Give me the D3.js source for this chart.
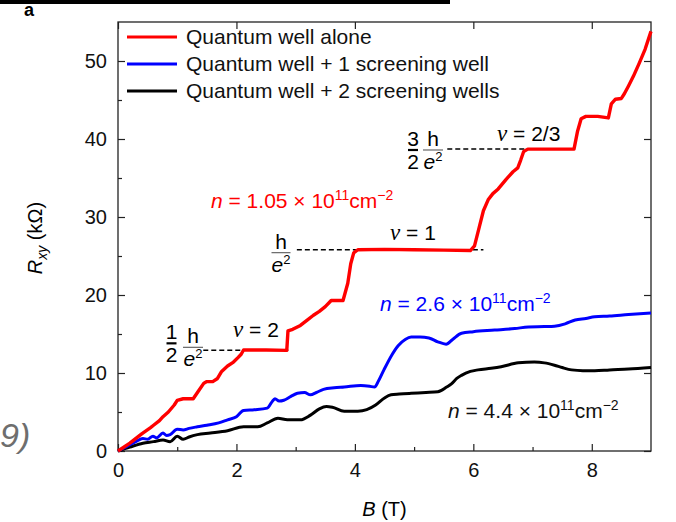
<!DOCTYPE html>
<html>
<head>
<meta charset="utf-8">
<script src="https://cdn.jsdelivr.net/npm/d3@7"></script>
<style>
  html, body { margin: 0; padding: 0; background: #fff; }
  svg { display: block; font-family: "Liberation Sans", Arial, sans-serif; }
</style>
</head>
<body>
<svg id="chart" width="676" height="522"></svg>
<script>
// Hall resistance R_xy (kΩ) versus magnetic field B (T)
const seriesNames = [
  "Quantum well alone",
  "Quantum well + 1 screening well",
  "Quantum well + 2 screening wells"
];
const seriesColors = ["#ff0000", "#0000ff", "#000000"];

// [B (T), Rxy (kΩ)]
const wellAlone = [
  [0,0],[0.2,1.0],[0.4,2.2],[0.55,3.0],[0.6,3.3],[0.7,3.9],[0.76,4.4],[0.85,5.0],[0.95,5.9],
  [1.0,6.5],[1.1,6.7],[1.27,6.7],[1.35,7.6],[1.45,8.7],[1.5,8.9],[1.6,8.9],[1.68,9.3],
  [1.75,10.2],[1.85,10.9],[1.95,11.4],[2.03,12.0],[2.08,12.4],[2.12,12.95],[2.5,12.95],
  [2.85,12.9],[2.87,15.4],[2.95,15.6],[3.08,16.1],[3.2,16.8],[3.3,17.4],[3.4,17.9],
  [3.5,18.5],[3.6,19.3],[3.8,19.3],[3.88,21.5],[3.93,24.0],[3.98,25.4],[4.05,25.8],
  [4.5,25.85],[5.0,25.8],[5.5,25.75],[5.95,25.7],[6.02,26.3],[6.1,28.7],[6.17,30.8],
  [6.25,32.2],[6.33,33.0],[6.42,33.6],[6.55,34.8],[6.67,35.8],[6.75,36.3],[6.8,37.3],
  [6.85,38.4],[6.92,38.7],[7.3,38.7],[7.7,38.7],[7.76,41.0],[7.82,42.6],[7.9,42.9],
  [8.1,42.9],[8.28,42.7],[8.33,44.5],[8.4,45.1],[8.5,45.2],[8.55,45.8],[8.62,46.8],
  [8.7,48.0],[8.8,49.7],[8.9,51.5],[9.0,53.8]
];
const oneScreening = [
  [0,0],[0.15,0.6],[0.3,1.2],[0.42,1.6],[0.5,1.5],[0.59,1.9],[0.65,1.7],[0.76,2.3],
  [0.82,2.0],[0.88,2.1],[1.0,2.8],[1.1,2.7],[1.2,2.9],[1.34,3.1],[1.5,3.3],[1.7,3.6],
  [1.85,4.0],[2.0,4.4],[2.12,5.2],[2.3,5.3],[2.52,5.5],[2.6,6.3],[2.65,6.7],[2.72,6.4],
  [2.8,6.5],[2.92,7.0],[3.03,7.4],[3.15,7.5],[3.25,7.2],[3.35,7.5],[3.47,7.9],[3.65,8.1],
  [3.82,8.2],[4.1,8.4],[4.25,8.3],[4.33,8.2],[4.4,9.0],[4.49,10.4],[4.6,12.0],[4.73,13.5],
  [4.85,14.3],[4.95,14.6],[5.1,14.6],[5.25,14.5],[5.4,14.0],[5.54,13.7],[5.65,14.3],
  [5.8,15.1],[6.0,15.3],[6.36,15.5],[6.7,15.7],[6.93,15.9],[7.2,15.95],[7.37,16.0],
  [7.55,16.3],[7.72,16.8],[7.9,17.0],[8.05,17.2],[8.3,17.3],[8.62,17.5],[9.0,17.7]
];
const twoScreening = [
  [0,0],[0.2,0.5],[0.42,1.0],[0.6,1.2],[0.76,1.4],[0.88,1.2],[1.0,1.9],[1.1,1.5],[1.2,1.8],
  [1.34,2.1],[1.56,2.3],[1.85,2.6],[2.12,3.1],[2.36,3.1],[2.52,3.6],[2.7,4.2],[2.86,4.0],
  [3.08,4.0],[3.25,4.6],[3.4,5.4],[3.52,5.7],[3.62,5.6],[3.82,5.1],[4.05,5.1],[4.2,5.3],
  [4.35,5.9],[4.5,6.8],[4.61,7.2],[4.75,7.3],[4.95,7.4],[5.2,7.5],[5.4,7.6],[5.55,8.2],
  [5.63,8.6],[5.72,9.3],[5.8,9.7],[5.95,10.2],[6.08,10.4],[6.3,10.6],[6.47,10.8],
  [6.76,11.3],[7.03,11.4],[7.2,11.3],[7.37,11.0],[7.5,10.7],[7.66,10.4],[7.85,10.3],
  [8.05,10.3],[8.3,10.4],[8.62,10.5],[9.0,10.7]
];

const xTicks = [0, 2, 4, 6, 8];
const xMinorTicks = [1, 3, 5, 7];
const yTicks = [0, 10, 20, 30, 40, 50];
const yMinorTicks = [5, 15, 25, 35, 45];

// Quantized plateaus: h/(ν e²) in kΩ, with the B range of the guide line
const plateauNu = ["2", "1", "2/3"];
const plateauR = [12.906, 25.813, 38.719];
const plateauB = [[1.44, 2.88], [3.02, 6.17], [5.56, 7.69]];

// Carrier densities (× 10^11 cm^-2)
const densities = ["1.05", "2.6", "4.4"];

const svg = d3.select("#chart");
const X0 = 118, X1 = 651, Y0 = 451, Y1 = 22;
const x = d3.scaleLinear().domain([0, 9]).range([X0, X1]);
const y = d3.scaleLinear().domain([0, 55]).range([Y0, Y1]);
const FS = 20;   // tick labels
const LS = 21;   // legend and annotations
const serif = "'Liberation Serif', 'DejaVu Serif', serif";

// Header bar and panel letter
svg.append("rect").attr("x", 0).attr("y", 0).attr("width", 450).attr("height", 4).attr("fill", "#000");
svg.append("text").attr("x", 24).attr("y", 16).attr("font-size", 18).attr("font-weight", "bold").text("a");
svg.append("text").attr("x", 0).attr("y", 447).attr("font-size", 34).attr("font-style", "italic")
  .attr("fill", "#6e6e6e").text("9)");

// Axes (ticks pointing inward)
const axisColor = "#222";
const gx = svg.append("g").attr("transform", `translate(0,${Y0})`)
  .call(d3.axisBottom(x).tickValues(xTicks).tickSize(-7).tickPadding(12).tickFormat(d3.format("d")));
const gxm = svg.append("g").attr("transform", `translate(0,${Y0})`)
  .call(d3.axisBottom(x).tickValues(xMinorTicks).tickSize(-4).tickFormat(""));
const gy = svg.append("g").attr("transform", `translate(${X0},0)`)
  .call(d3.axisLeft(y).tickValues(yTicks).tickSize(-7).tickPadding(11).tickFormat(d3.format("d")));
const gym = svg.append("g").attr("transform", `translate(${X0},0)`)
  .call(d3.axisLeft(y).tickValues(yMinorTicks).tickSize(-4).tickFormat(""));
[gx, gxm, gy, gym].forEach(g => {
  g.select(".domain").remove();
  g.selectAll(".tick line").attr("stroke", axisColor).attr("stroke-width", 1.2);
  g.selectAll(".tick text").attr("font-size", FS).attr("fill", "#111")
    .attr("font-family", "'Liberation Sans', Arial, sans-serif");
});
// mirrored ticks on top and right
svg.append("g").attr("transform", `translate(0,${Y1})`)
  .call(d3.axisTop(x).tickValues(xTicks).tickSize(-7).tickFormat(""))
  .call(g => g.select(".domain").remove())
  .selectAll("line").attr("stroke", axisColor).attr("stroke-width", 1.2);
svg.append("g").attr("transform", `translate(${X1},0)`)
  .call(d3.axisRight(y).tickValues(yTicks).tickSize(-7).tickFormat(""))
  .call(g => g.select(".domain").remove())
  .selectAll("line").attr("stroke", axisColor).attr("stroke-width", 1.2);

// Frame
svg.append("rect").attr("x", X0).attr("y", Y1).attr("width", X1 - X0).attr("height", Y0 - Y1)
  .attr("fill", "none").attr("stroke", axisColor).attr("stroke-width", 1.3);

// Axis titles
const xt = svg.append("text").attr("x", (X0 + X1) / 2).attr("y", 516).attr("text-anchor", "middle")
  .attr("font-size", FS);
xt.append("tspan").attr("font-style", "italic").text("B");
xt.append("tspan").text(" (T)");
const yt = svg.append("text").attr("transform", "translate(42,238) rotate(-90)")
  .attr("text-anchor", "middle").attr("font-size", FS);
yt.append("tspan").attr("font-style", "italic").text("R");
yt.append("tspan").attr("font-style", "italic").attr("font-size", 14).attr("dy", 5).text("xy");
yt.append("tspan").attr("dy", -5).text(" (kΩ)");

// Plateau guide lines
plateauR.forEach((r, i) => {
  svg.append("line").attr("x1", x(plateauB[i][0])).attr("x2", x(plateauB[i][1]))
    .attr("y1", y(r)).attr("y2", y(r)).attr("stroke", "#000").attr("stroke-width", 1.5)
    .attr("stroke-dasharray", "5,3");
});

// Curves
const line = d3.line().x(d => x(d[0])).y(d => y(d[1]));
const smooth = d3.line().x(d => x(d[0])).y(d => y(d[1])).curve(d3.curveMonotoneX);
svg.append("path").datum(twoScreening).attr("d", smooth).attr("fill", "none")
  .attr("stroke", seriesColors[2]).attr("stroke-width", 3).attr("stroke-linejoin", "round");
svg.append("path").datum(oneScreening).attr("d", smooth).attr("fill", "none")
  .attr("stroke", seriesColors[1]).attr("stroke-width", 3).attr("stroke-linejoin", "round");
svg.append("path").datum(wellAlone).attr("d", line).attr("fill", "none")
  .attr("stroke", seriesColors[0]).attr("stroke-width", 3.4).attr("stroke-linejoin", "round");

// Legend
seriesNames.forEach((name, i) => {
  const ly = [37, 64, 91][i];
  svg.append("line").attr("x1", 127).attr("x2", 177).attr("y1", ly).attr("y2", ly)
    .attr("stroke", seriesColors[i]).attr("stroke-width", 3);
  svg.append("text").attr("x", 186).attr("y", ly + 7).attr("font-size", LS).attr("fill", "#111").text(name);
});

// Fraction helper: numerator over denominator with a bar
function frac(cx, yBar, num, den, barW, barColor, barWidth) {
  svg.append("line").attr("x1", cx - barW / 2).attr("x2", cx + barW / 2).attr("y1", yBar).attr("y2", yBar)
    .attr("stroke", barColor).attr("stroke-width", barWidth);
  svg.append("text").attr("x", cx).attr("y", yBar - 4).attr("text-anchor", "middle")
    .attr("font-size", LS).text(num);
  const t = svg.append("text").attr("x", cx).attr("y", yBar + 19).attr("text-anchor", "middle")
    .attr("font-size", LS);
  den(t);
}
const eSq = t => {
  t.append("tspan").attr("font-style", "italic").text("e");
  t.append("tspan").attr("font-size", 13).attr("dy", -8).text("2");
};
const two = t => t.text("2");
function nuLabel(xp, yp, val) {
  const t = svg.append("text").attr("x", xp).attr("y", yp).attr("font-size", LS);
  t.append("tspan").attr("font-style", "italic").attr("font-family", serif).attr("font-size", 23).text("ν");
  t.append("tspan").text(" = " + val);
}

// ν = 2 label: (1/2) h/e²
{
  const yb = y(plateauR[0]);
  frac(171.5, yb - 7, "1", two, 10, "#000", 2.2);
  frac(193, yb - 3, "h", eSq, 20, "#666", 1.2);
  nuLabel(233, yb - 13, plateauNu[0]);
}
// ν = 1 label: h/e²
{
  const yb = y(plateauR[1]);
  frac(281, yb + 3, "h", eSq, 19, "#666", 1.2);
  nuLabel(390, yb - 10, plateauNu[1]);
}
// ν = 2/3 label: (3/2) h/e²
{
  const yb = y(plateauR[2]);
  frac(413, yb + 1, "3", two, 10, "#000", 2.2);
  frac(433, yb + 1, "h", eSq, 20, "#666", 1.2);
  nuLabel(497, yb - 8, plateauNu[2]);
}

// Density labels
function density(xp, yp, val, color) {
  const t = svg.append("text").attr("x", xp).attr("y", yp).attr("font-size", LS).attr("fill", color);
  t.append("tspan").attr("font-style", "italic").text("n");
  t.append("tspan").text(" = " + val + " × 10");
  t.append("tspan").attr("font-size", 14).attr("dy", -8).text("11");
  t.append("tspan").attr("dy", 8).text("cm");
  t.append("tspan").attr("font-size", 14).attr("dy", -8).text("−2");
}
density(211, 208, densities[0], seriesColors[0]);
density(380, 311, densities[1], seriesColors[1]);
density(448, 418, densities[2], "#111");
</script>
</body>
</html>
